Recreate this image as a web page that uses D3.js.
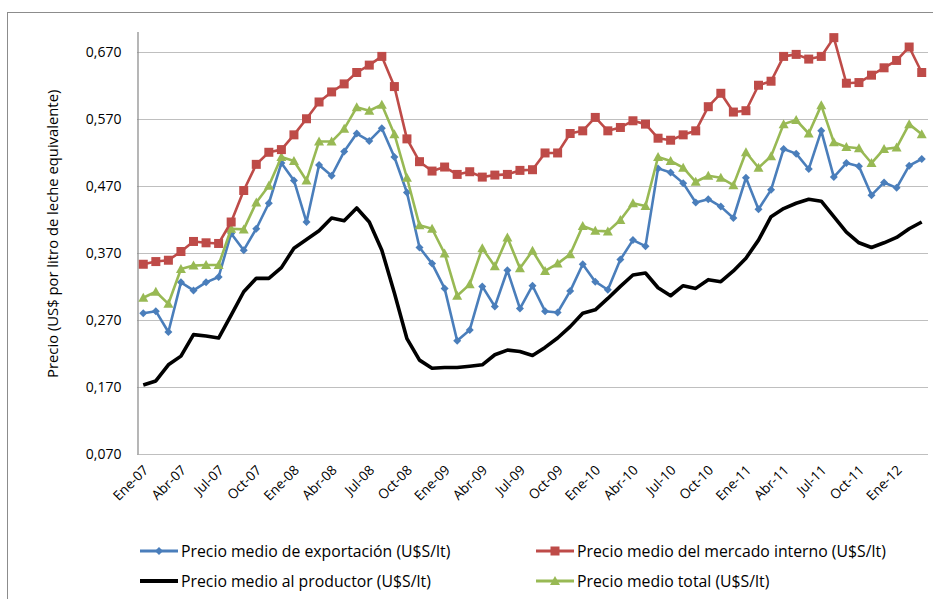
<!DOCTYPE html>
<html><head><meta charset="utf-8">
<script src="https://cdn.jsdelivr.net/npm/d3@7"></script>
<style>body{margin:0;background:#fff;}svg{display:block;font-family:"Open Sans",sans-serif;}</style>
</head><body>
<svg id="c" width="933" height="599"></svg>
<script>
const monthNames = ["Ene","Feb","Mar","Abr","May","Jun","Jul","Ago","Sep","Oct","Nov","Dic"];
const years = ["07","08","09","10","11","12"];
const months = [];
years.forEach(y => monthNames.forEach(m => months.push(m + "-" + y)));
const categories = months.slice(0, 63);
const yTicks = [0.07,0.17,0.27,0.37,0.47,0.57,0.67];

const exportacion = [0.280,0.283,0.252,0.326,0.314,0.326,0.334,0.399,0.374,0.406,
0.444,0.504,0.478,0.416,0.501,0.485,0.521,0.548,0.537,0.556,
0.513,0.460,0.378,0.354,0.317,0.239,0.255,0.320,0.290,0.344,
0.287,0.321,0.283,0.281,0.313,0.353,0.327,0.315,0.360,0.389,
0.380,0.496,0.490,0.474,0.445,0.450,0.439,0.422,0.482,0.435,
0.464,0.525,0.518,0.495,0.552,0.483,0.504,0.499,0.456,0.475,
0.467,0.500,0.510];
const interno = [0.353,0.357,0.359,0.372,0.387,0.385,0.384,0.416,0.463,0.502,
0.520,0.524,0.546,0.570,0.595,0.610,0.622,0.639,0.650,0.663,
0.618,0.540,0.506,0.492,0.498,0.487,0.491,0.483,0.486,0.487,
0.493,0.494,0.519,0.519,0.548,0.552,0.572,0.552,0.557,0.567,
0.562,0.541,0.538,0.546,0.552,0.588,0.608,0.580,0.582,0.620,
0.626,0.663,0.666,0.659,0.663,0.691,0.623,0.624,0.635,0.646,
0.657,0.677,0.639];
const productor = [0.173,0.179,0.203,0.216,0.248,0.246,0.243,0.277,0.312,0.332,
0.332,0.348,0.377,0.390,0.403,0.422,0.418,0.437,0.416,0.374,
0.310,0.242,0.210,0.198,0.199,0.199,0.201,0.203,0.218,0.225,
0.223,0.217,0.229,0.243,0.260,0.280,0.285,0.302,0.320,0.337,
0.340,0.318,0.306,0.321,0.317,0.330,0.327,0.343,0.362,0.389,
0.424,0.436,0.444,0.450,0.447,0.424,0.401,0.385,0.378,0.385,
0.393,0.406,0.416];
const total = [0.303,0.312,0.294,0.346,0.351,0.352,0.352,0.406,0.405,0.445,
0.470,0.513,0.507,0.478,0.536,0.536,0.555,0.587,0.582,0.591,
0.547,0.482,0.411,0.406,0.369,0.306,0.323,0.377,0.350,0.393,
0.347,0.373,0.343,0.354,0.368,0.410,0.403,0.402,0.419,0.444,
0.440,0.513,0.507,0.497,0.476,0.485,0.482,0.471,0.520,0.497,
0.514,0.562,0.568,0.548,0.590,0.535,0.528,0.526,0.504,0.525,
0.527,0.562,0.547];

const seriesNames = ["Precio medio de exportación (U$S/lt)","Precio medio del mercado interno (U$S/lt)","Precio medio al productor (U$S/lt)","Precio medio total (U$S/lt)"];

const svg = d3.select("#c");
svg.append("rect").attr("x",7.5).attr("y",12.5).attr("width",940).attr("height",600)
  .attr("fill","none").attr("stroke","#8c8c8c").attr("stroke-width",1);

const L=137, R=928, T=31.6, B=454;
const x = d3.scaleBand().domain(categories).range([L,R]).padding(0);
const cx = d => x(d) + x.bandwidth()/2;
const y = d3.scaleLinear().domain([0.07,0.70]).range([B,T]);
const fmt = v => d3.format(".3f")(v).replace(".", ",");

svg.append("g").selectAll("line").data(yTicks).join("line")
  .attr("x1",L).attr("x2",R).attr("y1",d=>Math.round(y(d))+0.5).attr("y2",d=>Math.round(y(d))+0.5)
  .attr("stroke","#bfbfbf").attr("stroke-width",1.2);
const ya = svg.append("g").attr("transform",`translate(${L+0.5},0)`)
  .call(d3.axisLeft(y).tickValues(yTicks).tickFormat(fmt).tickSize(0).tickPadding(16));
ya.select(".domain").attr("stroke","#868686").attr("stroke-width",1.2);
ya.selectAll("text").attr("font-size","14px").attr("fill","#000").attr("font-family","Open Sans");

const xTickCats = categories.filter((d,i)=>i%3===0);
svg.append("g").selectAll("text").data(xTickCats).join("text")
  .attr("transform",d=>`translate(${cx(d)+6},${B+17}) rotate(-45)`)
  .attr("text-anchor","end").attr("font-size","13.5px").attr("fill","#000").text(d=>d);

svg.append("text").attr("transform",`translate(58,${(T+B)/2-9}) rotate(-90)`)
  .attr("text-anchor","middle").attr("font-size","14.8px").attr("fill","#000")
  .text("Precio (US$ por litro de leche equivalente)");

const line = d3.line().x((d,i)=>cx(categories[i])).y(d=>y(d));
const cfg = [
  {data:exportacion, color:"#4a7ebb", w:2.6, marker:"diamond"},
  {data:interno, color:"#be4b48", w:2.6, marker:"square"},
  {data:productor, color:"#000000", w:3.6, marker:null},
  {data:total, color:"#98b954", w:2.6, marker:"triangle"}
];
const drawOrder = [2,0,3,1];
function marker(g, type, color, px, py){
  if(type==="square"){
    g.append("rect").attr("x",px-4.5).attr("y",py-4.5).attr("width",9).attr("height",9).attr("fill",color);
  } else if(type==="diamond"){
    g.append("path").attr("d",`M${px},${py-4}L${px+4},${py}L${px},${py+4}L${px-4},${py}Z`).attr("fill",color);
  } else if(type==="triangle"){
    g.append("path").attr("d",`M${px},${py-5}L${px+5},${py+4}L${px-5},${py+4}Z`).attr("fill",color);
  }
}
drawOrder.forEach(k=>{
  const s = cfg[k];
  const g = svg.append("g");
  g.append("path").datum(s.data).attr("d",line).attr("fill","none")
    .attr("stroke",s.color).attr("stroke-width",s.w).attr("stroke-linejoin","round");
  if(s.marker) s.data.forEach((v,i)=>marker(g,s.marker,s.color,cx(categories[i]),y(v)));
});

const legPos = [[140,551],[536,551],[140,581],[536,581]];
seriesNames.forEach((n,k)=>{
  const s = cfg[k]; const [lx,ly] = legPos[k];
  const g = svg.append("g");
  g.append("line").attr("x1",lx).attr("x2",lx+38).attr("y1",ly).attr("y2",ly)
    .attr("stroke",s.color).attr("stroke-width",s.w+0.4);
  if(s.marker) marker(g,s.marker,s.color,lx+19,ly);
  g.append("text").attr("x",lx+41).attr("y",ly+5.5).attr("font-size","15.8px").attr("fill","#000").text(n);
});
</script>
</body></html>
